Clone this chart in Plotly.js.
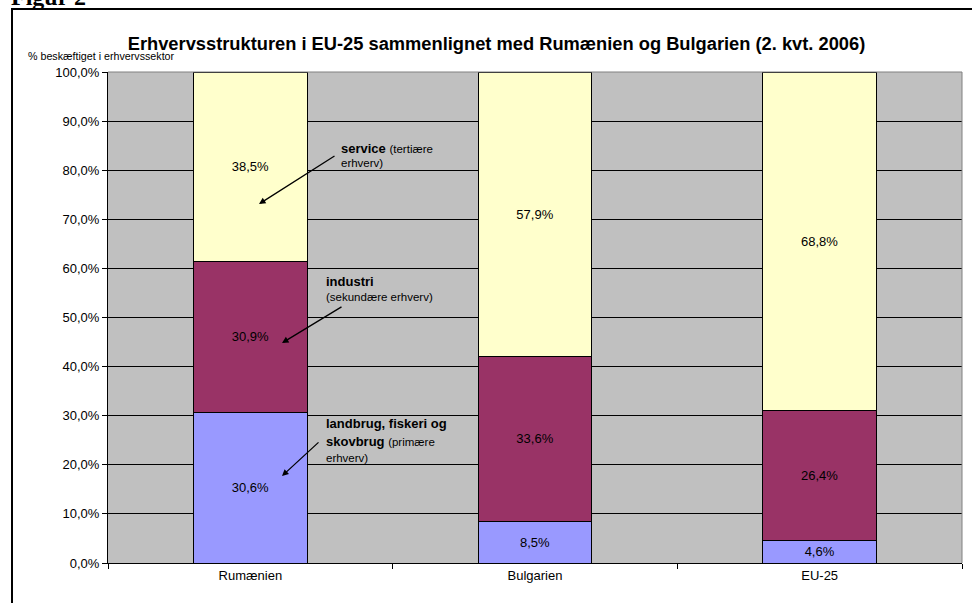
<!DOCTYPE html>
<html>
<head>
<meta charset="utf-8">
<script src="https://cdn.plot.ly/plotly-3.0.1.min.js"></script>
<style>
html,body{margin:0;padding:0;background:#fff;}
#chart{width:972px;height:603px;}
</style>
</head>
<body>
<div id="chart"></div>
<script>
const categories = ["Rumænien", "Bulgarien", "EU-25"];
const primary = [30.6, 8.5, 4.6];      // landbrug, fiskeri og skovbrug
const secondary = [30.9, 33.6, 26.4];  // industri
const tertiary = [38.5, 57.9, 68.8];   // service
const seriesNames = ["landbrug, fiskeri og skovbrug", "industri", "service"];
const yTickVals = [0, 10, 20, 30, 40, 50, 60, 70, 80, 90, 100];

const W = 972, H = 603;
const M = {l: 108, r: 10, t: 72, b: 40};
const PW = W - M.l - M.r, PH = H - M.t - M.b;
const px = x => (x - M.l) / PW;
const py = y => (H - M.b - y) / PH;

const fmt = v => v.toFixed(1).replace('.', ',') + '%';
const colors = ['#9999FF', '#993366', '#FFFFCC'];
const series = [primary, secondary, tertiary];

const traces = series.map((vals, i) => ({
  type: 'bar',
  name: seriesNames[i],
  x: categories,
  y: vals,
  text: vals.map(fmt),
  textposition: 'inside',
  insidetextanchor: 'middle',
  textangle: 0,
  constraintext: 'none',
  textfont: {family: 'Liberation Sans, Arial, sans-serif', size: 13, color: '#000'},
  marker: {color: colors[i], line: {color: '#000', width: 1}},
  hoverinfo: 'skip'
}));

const font = 'Liberation Sans, Arial, sans-serif';
function txt(text, x, y, size) {
  return {text, xref: 'paper', yref: 'paper', x: px(x), y: py(y),
    xanchor: 'left', yanchor: 'middle', align: 'left', showarrow: false,
    font: {family: font, size: size || 13, color: '#000'}};
}
function arrow(hx, hy, tx, ty) {
  return {text: '', xref: 'paper', yref: 'paper', x: px(hx), y: py(hy),
    ax: tx - hx, ay: ty - hy, axref: 'pixel', ayref: 'pixel',
    showarrow: true, arrowhead: 2, arrowsize: 1, arrowwidth: 1.3, arrowcolor: '#000'};
}
const sm = s => "<span style='font-size:11.5px'>" + s + "</span>";

const annotations = [
  {text: '<b>Figur 2</b>', xref: 'paper', yref: 'paper', x: px(9), y: py(-3),
   xanchor: 'left', yanchor: 'middle', showarrow: false,
   font: {family: 'Liberation Serif, Times New Roman, serif', size: 24, color: '#000'}},
  {text: '% beskæftiget i erhvervssektor', xref: 'paper', yref: 'paper', x: px(26), y: py(56),
   xanchor: 'left', yanchor: 'middle', showarrow: false,
   font: {family: font, size: 10.7, color: '#000'}},
  txt('<b>service</b> ' + sm('(tertiære'), 339, 148),
  txt(sm('erhverv)'), 339, 163),
  txt('<b>industri</b>', 324, 281),
  txt(sm('(sekundære erhverv)'), 324, 297),
  txt('<b>landbrug, fiskeri og</b>', 324, 423),
  txt('<b>skovbrug</b> ' + sm('(primære'), 324, 441),
  txt(sm('erhverv)'), 324, 458),
  arrow(259, 204, 336, 155),
  arrow(282, 343, 343, 306),
  arrow(282, 476, 320, 441)
];

const layout = {
  width: W, height: H,
  margin: M,
  paper_bgcolor: '#fff',
  plot_bgcolor: '#C0C0C0',
  separators: ', ',
  barmode: 'stack',
  bargap: 0.6,
  showlegend: false,
  font: {family: font, size: 13, color: '#000'},
  title: {text: '<b>Erhvervsstrukturen i EU-25 sammenlignet med Rumænien og Bulgarien (2. kvt. 2006)</b>',
    xref: 'container', x: 496.5 / W, xanchor: 'center',
    yref: 'container', y: 1 - 44 / H, yanchor: 'middle',
    font: {family: font, size: 18.3, color: '#000'}},
  xaxis: {
    type: 'category',
    showline: true, linecolor: '#000', linewidth: 1,
    ticks: 'outside', ticklen: 5, tickcolor: '#000', tickson: 'boundaries',
    showgrid: false, zeroline: false,
    tickfont: {family: font, size: 13, color: '#000'}
  },
  yaxis: {
    range: [0, 100],
    tickvals: yTickVals,
    ticktext: yTickVals.map(fmt),
    showline: true, linecolor: '#000', linewidth: 1,
    ticks: 'outside', ticklen: 5, tickcolor: '#000',
    showgrid: true, gridcolor: '#000', gridwidth: 1,
    zeroline: false,
    tickfont: {family: font, size: 13, color: '#000'}
  },
  shapes: [
    {type: 'line', xref: 'paper', yref: 'paper', x0: 0, x1: 1, y0: 1, y1: 1,
     line: {color: '#808080', width: 1}},
    {type: 'line', xref: 'paper', yref: 'paper', x0: 1, x1: 1, y0: 0, y1: 1,
     line: {color: '#808080', width: 1}},
    {type: 'rect', xref: 'paper', yref: 'paper', x0: px(12), x1: px(990), y0: py(9), y1: py(620),
     line: {color: '#000', width: 2}, fillcolor: 'rgba(0,0,0,0)'}
  ],
  annotations
};

Plotly.newPlot('chart', traces, layout, {displayModeBar: false, staticPlot: true});
</script>
</body>
</html>
